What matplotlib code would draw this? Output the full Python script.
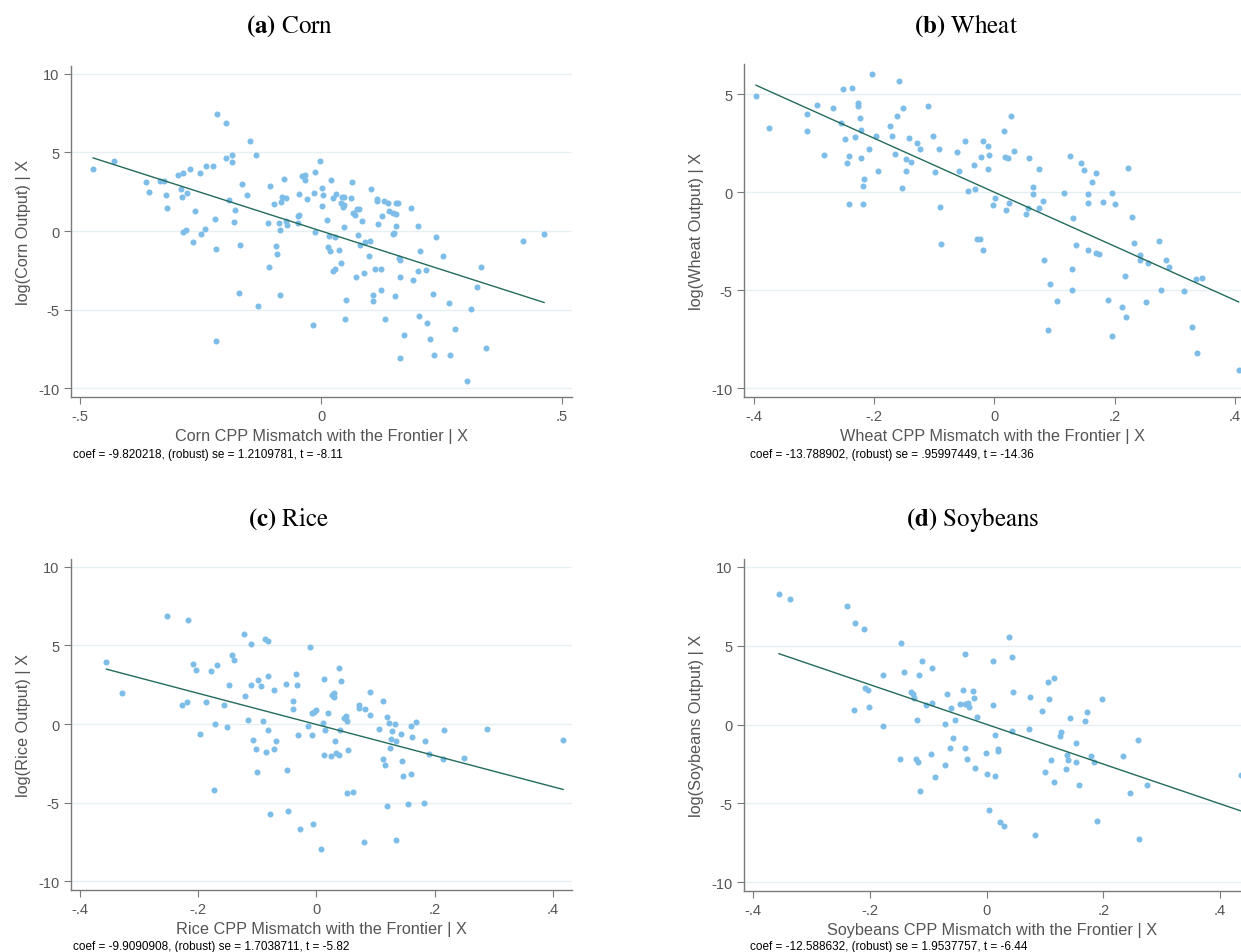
import numpy as np
import matplotlib
matplotlib.use("Agg")
import matplotlib.pyplot as plt

plt.rcParams['font.family'] = ['Liberation Sans', 'DejaVu Sans']
plt.rcParams['mathtext.fontset'] = 'stix'

# ---- data (added-variable plots) ----
corn_x = [-0.473, -0.430, -0.364, -0.358, -0.335, -0.325, -0.321, -0.319, -0.296, -0.286,
          -0.291, -0.289, -0.279, -0.271, -0.287, -0.281, -0.265, -0.262, -0.252, -0.250,
          -0.240, -0.239, -0.224, -0.220, -0.218, -0.219, -0.215, -0.198, -0.198, -0.185,
          -0.184, -0.191, -0.179, -0.181, -0.169, -0.170, -0.163, -0.154, -0.148, -0.136,
          -0.130, -0.111, -0.108, -0.106, -0.097, -0.093, -0.092, -0.088, -0.085, -0.085,
          -0.084, -0.082, -0.076, -0.073, -0.071, -0.073, -0.047, -0.046, -0.047, -0.045,
          -0.039, -0.033, -0.033, -0.030, -0.016, -0.014, -0.012, -0.013, -0.002, 0.002,
          0.003, 0.004, 0.012, 0.014, 0.016, 0.018, 0.020, 0.024, 0.024, 0.029,
          0.030, 0.031, 0.038, 0.041, 0.042, 0.043, 0.045, 0.047, 0.048, 0.047,
          0.049, 0.051, 0.062, 0.064, 0.066, 0.071, 0.073, 0.076, 0.075, 0.078,
          0.080, 0.085, 0.090, 0.091, 0.100, 0.102, 0.104, 0.107, 0.108, 0.113,
          0.116, 0.117, 0.118, 0.124, 0.125, 0.126, 0.130, 0.133, 0.140, 0.141,
          0.149, 0.150, 0.151, 0.154, 0.155, 0.156, 0.156, 0.160, 0.161, 0.163,
          0.163, 0.164, 0.172, 0.186, 0.191, 0.202, 0.202, 0.203, 0.206, 0.218,
          0.220, 0.226, 0.232, 0.235, 0.238, 0.254, 0.265, 0.267, 0.278, 0.303,
          0.312, 0.323, 0.332, 0.342, 0.420, 0.463]
corn_y = [3.92, 4.43, 3.14, 2.50, 3.16, 3.16, 2.31, 1.44, 3.56, 3.67,
          2.65, 2.20, 2.42, 3.96, -0.06, 0.06, -0.72, 1.29, 3.67, -0.21,
          0.13, 4.11, 4.11, 0.78, -1.12, -6.99, 7.44, 6.89, 4.66, 4.87,
          4.41, 1.95, 1.33, 0.59, -0.87, -3.96, 3.01, 2.31, 5.76, 4.81,
          -4.75, 0.49, -2.29, 2.84, 1.74, -0.93, -1.44, 0.49, 0.04, -4.05,
          1.86, 2.14, 3.31, 2.08, 0.36, 0.66, 0.49, 1.04, 0.93, 2.35,
          3.50, 3.56, 3.22, 2.06, -6.00, 2.42, 3.73, -0.08, 4.49, 1.59,
          2.73, 2.31, 0.68, -1.04, -0.28, -1.29, 3.22, 2.08, -2.52, -2.44,
          -0.40, 2.39, -1.17, 1.80, -2.01, 2.14, 1.53, 2.20, 1.69, 0.28,
          -5.59, -4.41, 2.08, 3.14, 1.14, 1.04, -2.92, -0.25, 1.38, 1.42,
          -0.91, 0.66, -2.69, -0.68, -1.61, -0.61, 2.65, -4.07, -4.43, -2.44,
          2.06, 1.89, 0.44, -3.77, -2.44, 0.95, 1.89, -5.57, 1.78, 1.27,
          -0.21, 1.17, -0.13, -4.15, 1.78, 1.10, 0.34, 1.78, -1.69, -1.86,
          -8.09, -2.90, -6.63, 1.50, -3.09, 0.32, -2.54, -5.38, -1.25, -2.46,
          -5.83, -6.89, -3.98, -7.86, -0.38, -1.61, -4.56, -7.90, -6.25, -9.56,
          -4.98, -3.58, -2.31, -7.46, -0.61, -0.17]

wheat_x = [-0.396, -0.375, -0.312, -0.312, -0.294, -0.283, -0.268, -0.255, -0.252, -0.248,
           -0.242, -0.244, -0.241, -0.237, -0.232, -0.226, -0.227, -0.224, -0.222, -0.221,
           -0.219, -0.216, -0.219, -0.208, -0.203, -0.196, -0.193, -0.174, -0.170, -0.165,
           -0.162, -0.158, -0.154, -0.151, -0.147, -0.147, -0.142, -0.139, -0.128, -0.124,
           -0.111, -0.102, -0.099, -0.092, -0.091, -0.088, -0.062, -0.058, -0.049, -0.043,
           -0.033, -0.032, -0.028, -0.024, -0.022, -0.019, -0.018, -0.011, -0.011, -0.009,
           -0.002, 0.001, 0.016, 0.017, 0.019, 0.022, 0.024, 0.028, 0.032, 0.053,
           0.056, 0.058, 0.065, 0.065, 0.074, 0.075, 0.081, 0.082, 0.089, 0.092,
           0.105, 0.116, 0.126, 0.129, 0.129, 0.131, 0.135, 0.144, 0.149, 0.155,
           0.155, 0.155, 0.163, 0.169, 0.169, 0.174, 0.181, 0.189, 0.195, 0.196,
           0.200, 0.212, 0.218, 0.219, 0.222, 0.229, 0.232, 0.242, 0.242, 0.252,
           0.256, 0.274, 0.277, 0.285, 0.291, 0.316, 0.328, 0.335, 0.337, 0.345,
           0.406]
wheat_y = [4.90, 3.29, 3.99, 3.12, 4.46, 1.92, 4.31, 3.55, 5.26, 2.73,
           1.85, 1.48, -0.58, 5.35, 2.83, 4.56, 4.41, 3.77, 1.73, 3.16,
           0.32, 0.66, -0.59, 2.19, 6.02, 2.85, 1.10, 3.38, 2.85, 1.95,
           3.90, 5.70, 0.24, 4.28, 1.71, 1.07, 2.78, 1.54, 2.53, 2.19,
           4.43, 2.88, 1.04, 2.19, -0.73, -2.65, 2.05, 1.09, 2.63, 0.05,
           1.37, 0.15, -2.39, -2.38, 1.78, -2.95, 2.60, 1.17, 2.36, 1.88,
           -0.64, -0.29, 3.11, 1.80, -0.90, 1.75, -0.56, 3.89, 2.10, -1.12,
           -0.80, 1.76, 0.27, -0.08, 1.20, -0.78, -0.44, -3.48, -7.03, -4.68,
           -5.53, -0.03, 1.85, -4.97, -3.90, -1.29, -2.68, 1.48, 1.14, -2.92,
           -0.10, -0.56, 0.54, 1.00, -3.11, -3.16, -0.49, -5.48, -7.35, -0.05,
           -0.61, -5.85, -4.28, -6.38, 1.24, -1.26, -2.61, -3.19, -3.48, -5.60,
           -3.60, -2.49, -4.97, -3.46, -3.80, -5.04, -6.86, -4.43, -8.18, -4.36,
           -9.08]

rice_x = [-0.355, -0.329, -0.252, -0.227, -0.219, -0.218, -0.208, -0.204, -0.197, -0.186,
          -0.178, -0.174, -0.172, -0.168, -0.157, -0.151, -0.148, -0.142, -0.140, -0.123,
          -0.120, -0.116, -0.111, -0.110, -0.107, -0.103, -0.100, -0.099, -0.094, -0.091,
          -0.087, -0.082, -0.085, -0.082, -0.082, -0.078, -0.072, -0.072, -0.069, -0.051,
          -0.050, -0.048, -0.039, -0.039, -0.034, -0.033, -0.032, -0.028, -0.014, -0.011,
          -0.008, -0.007, -0.006, -0.004, -0.001, 0.007, 0.011, 0.012, 0.013, 0.014,
          0.019, 0.024, 0.026, 0.030, 0.030, 0.032, 0.033, 0.038, 0.038, 0.039,
          0.042, 0.046, 0.050, 0.052, 0.052, 0.053, 0.061, 0.072, 0.072, 0.080,
          0.082, 0.091, 0.091, 0.106, 0.113, 0.113, 0.116, 0.119, 0.120, 0.122,
          0.125, 0.126, 0.128, 0.132, 0.134, 0.134, 0.143, 0.144, 0.147, 0.155,
          0.159, 0.160, 0.161, 0.168, 0.181, 0.184, 0.191, 0.214, 0.215, 0.250,
          0.288, 0.417]
rice_y = [3.97, 2.00, 6.89, 1.21, 1.42, 6.59, 3.85, 3.42, -0.66, 1.38,
          3.38, -4.19, -0.02, 3.78, 1.23, -0.21, 2.51, 4.40, 4.08, 5.76,
          1.81, 0.23, 2.51, 5.08, -1.00, -1.59, -3.06, 2.81, 2.44, 0.21,
          5.44, 5.29, -1.79, -0.40, 3.08, -5.72, 2.17, -1.59, -1.08, 2.57,
          -2.93, -5.53, 1.49, 0.98, 3.19, 2.51, -0.70, -6.70, -0.09, 4.91,
          -0.70, 0.72, -6.38, 0.79, 0.87, -7.95, 0.06, -1.96, 2.89, -0.36,
          0.72, -2.06, 1.85, 2.00, 1.74, -1.08, -1.83, 3.59, -1.96, -0.36,
          2.74, 0.40, 0.53, 0.17, -4.36, -1.66, -4.29, 1.21, 1.04, -7.48,
          0.96, 2.06, 0.57, -0.28, 1.47, -2.23, -2.57, 0.47, -5.23, 0.06,
          -1.51, -0.94, -0.43, 0.00, -1.08, -7.38, -0.62, -2.34, -3.29, -5.08,
          -3.19, -0.13, -0.85, 0.11, -5.02, -1.08, -1.91, -2.19, -0.40, -2.17,
          -0.34, -0.98]

soy_x = [-0.356, -0.337, -0.239, -0.226, -0.211, -0.228, -0.208, -0.203, -0.201, -0.178,
         -0.178, -0.149, -0.147, -0.142, -0.130, -0.126, -0.124, -0.121, -0.119, -0.118,
         -0.116, -0.114, -0.111, -0.104, -0.096, -0.093, -0.093, -0.089, -0.072, -0.072,
         -0.068, -0.063, -0.061, -0.057, -0.054, -0.046, -0.040, -0.038, -0.038, -0.038,
         -0.033, -0.032, -0.030, -0.023, -0.021, -0.020, -0.016, -0.002, 0.001, 0.004,
         0.010, 0.010, 0.014, 0.015, 0.019, 0.019, 0.023, 0.029, 0.038, 0.044,
         0.045, 0.044, 0.072, 0.074, 0.083, 0.094, 0.100, 0.105, 0.107, 0.110,
         0.116, 0.116, 0.125, 0.128, 0.136, 0.138, 0.140, 0.142, 0.153, 0.153,
         0.159, 0.169, 0.172, 0.179, 0.184, 0.189, 0.198, 0.233, 0.245, 0.259,
         0.261, 0.275, 0.436]
soy_y = [8.26, 7.96, 7.54, 6.45, 6.05, 0.93, 2.31, 2.19, 1.13, 3.14,
         -0.06, -2.21, 5.20, 3.35, 2.08, 1.93, 1.70, -2.21, 0.32, -2.36,
         3.16, -4.18, 4.06, 1.27, -1.85, 1.36, 3.57, -3.33, 0.02, -2.59,
         1.95, -1.49, 1.08, -0.87, 0.28, 1.32, 2.21, 4.48, -1.49, 1.32,
         -2.17, 1.38, 1.13, 2.12, 1.68, -2.76, 0.47, -1.78, -3.14, -5.44,
         4.01, 1.27, -0.68, -3.25, -1.55, -1.70, -6.20, -6.45, 5.58, 4.29,
         2.04, -0.40, -0.25, 1.74, -7.01, 0.87, -2.99, 2.70, 1.63, -2.27,
         2.93, -3.65, -0.74, -0.49, -2.82, -1.91, -2.25, 0.40, -1.17, -2.38,
         -3.82, 0.21, 0.81, -2.00, -2.36, -6.14, 1.61, -2.00, -4.31, -0.98,
         -7.26, -3.84, -3.21]

labels = ["(a)", "(b)", "(c)", "(d)"]
crops = ["Corn", "Wheat", "Rice", "Soybeans"]
coefs = [-9.820218, -13.788902, -9.9090908, -12.588632]
ses = ["1.2109781", ".95997449", "1.7038711", "1.9537757"]
tstats = ["-8.11", "-14.36", "-5.82", "-6.44"]
xs = [corn_x, wheat_x, rice_x, soy_x]
ys = [corn_y, wheat_y, rice_y, soy_y]
xticks = [[-0.5, 0, 0.5], [-0.4, -0.2, 0, 0.2, 0.4], [-0.4, -0.2, 0, 0.2, 0.4], [-0.4, -0.2, 0, 0.2, 0.4]]
yticks = [[-10, -5, 0, 5, 10], [-10, -5, 0, 5], [-10, -5, 0, 5, 10], [-10, -5, 0, 5, 10]]
xlims = [(-0.519, 0.521), (-0.416, 0.41), (-0.415, 0.432), (-0.416, 0.436)]
ylims = [(-10.55, 10.5), (-10.45, 6.55), (-10.55, 10.5), (-10.55, 10.5)]


def stata_fmt(v):
    if v == 0:
        return "0"
    s = f"{v:g}"
    return s.replace("0.", ".")


W, H = 1241, 953
fig = plt.figure(figsize=(W / 100, H / 100), dpi=100)
fig.patch.set_facecolor("white")

# axes boxes in pixels: left, top, right, bottom
boxes = [(71, 67, 572, 398), (744, 65, 1241, 398), (71, 560, 572, 891), (744, 560, 1241, 892)]
title_pos = [(290, 26), (966, 26), (289, 519), (973, 519)]
note_pos = [(73, 455), (750, 455), (73, 947), (750, 947)]

gray = "#555555"
for i in range(4):
    l, t, r, b = boxes[i]
    ax = fig.add_axes([l / W, 1 - b / H, (r - l) / W, (b - t) / H])
    x = np.array(xs[i])
    y = np.array(ys[i])
    ax.scatter(x, y, s=19, color="#7dbde8", linewidths=0, zorder=3)
    xx = np.array([x.min(), x.max()])
    b0 = y.mean() - coefs[i] * x.mean()
    ax.plot(xx, b0 + coefs[i] * xx, color="#236b5b", lw=1.0, zorder=4)

    ax.set_xlim(*xlims[i])
    ax.set_ylim(*ylims[i])
    ax.set_xticks(xticks[i])
    ax.set_xticklabels([stata_fmt(v) for v in xticks[i]])
    ax.set_yticks(yticks[i])
    ax.set_yticklabels([str(v) for v in yticks[i]])
    ax.grid(axis="y", color="#e6eff1", lw=1.0, zorder=0)
    ax.set_axisbelow(True)
    for side in ["top", "right"]:
        ax.spines[side].set_visible(False)
    for side in ["left", "bottom"]:
        ax.spines[side].set_color("#7a7a7a")
        ax.spines[side].set_linewidth(1.0)
    ax.tick_params(colors="#7a7a7a", labelcolor=gray, labelsize=10.5, length=5, width=0.8)
    ax.set_xlabel(f"{crops[i]} CPP Mismatch with the Frontier | X", fontsize=11.7, color=gray, labelpad=4)
    ax.set_ylabel(f"log({crops[i]} Output) | X", fontsize=11.7, color=gray, labelpad=5)

    fig.text(title_pos[i][0] / W, 1 - title_pos[i][1] / H,
             r"$\mathbf{" + labels[i] + "}$ " + crops[i],
             ha="center", va="center", fontsize=18, family="STIXGeneral")
    fig.text(note_pos[i][0] / W, 1 - note_pos[i][1] / H,
             f"coef = {coefs[i]}, (robust) se = {ses[i]}, t = {tstats[i]}",
             ha="left", va="center", fontsize=8.5, color="black")

fig.savefig("out.png", dpi=100)
